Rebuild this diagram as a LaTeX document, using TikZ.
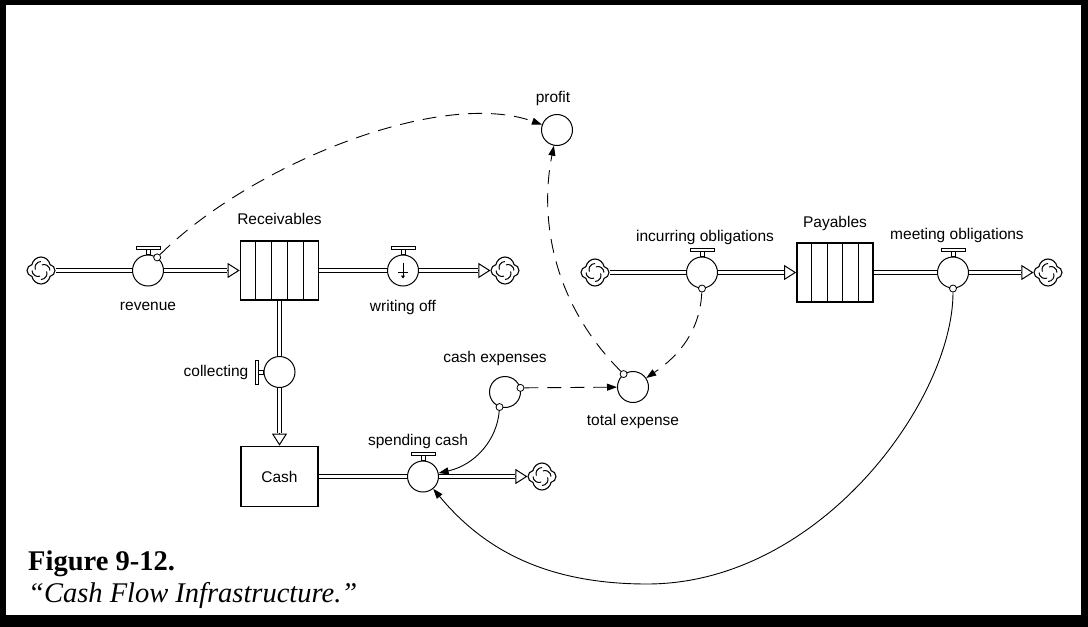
\documentclass[tikz,border=0pt]{standalone}
\usepackage{fontspec}
\setmainfont{Liberation Sans}
\newfontfamily\capfont{Liberation Serif}
\usepackage{tikz}
\usetikzlibrary{shapes.geometric, shapes.symbols, arrows.meta, calc, positioning}
\tikzstyle{stock} = [rectangle, line width=1.7pt, minimum width=78pt, minimum height=59pt, inner sep=0pt, text centered, draw=black, font=\fontsize{15.5}{18}\selectfont]
\tikzstyle{valve} = [circle, line width=1pt, minimum size=31pt, inner sep=0pt, draw=black, fill=white]
\tikzstyle{aux} = [circle, line width=1pt, minimum size=31pt, inner sep=0pt, draw=black, fill=white]
\tikzstyle{linkdot} = [circle, line width=0.8pt, minimum size=7pt, inner sep=0pt, draw=black, fill=white]
\tikzstyle{cloudsym} = [cloud, cloud puffs=4, cloud puff arc=160, aspect=1, shape border rotate=45, line width=1.1pt, minimum width=28pt, minimum height=27pt, inner sep=0pt, draw=black, fill=white,
  path picture={\foreach \a in {0,90,180,270} \draw[line width=1pt] (path picture bounding box.center) ++(\a:9pt) arc[start angle=\a, end angle=\a+110, radius=6pt];}]
\tikzstyle{lbl} = [inner sep=0pt, text height=11.5pt, text depth=3.3pt, font=\fontsize{15.5}{18}\selectfont]
\tikzstyle{pipe} = [line width=1pt, double, double distance=2.6pt, shorten >=12.5pt]
\tikzstyle{pipetip} = [line width=1pt, -{Triangle[fill=white, length=12pt, width=15pt]}]
\tikzstyle{handle} = [line width=0.8pt, draw=black, fill=white]
\tikzstyle{divider} = [line width=1.2pt]
\tikzstyle{link} = [line width=0.9pt, -{Triangle[length=10pt, width=7pt]}]
\tikzstyle{dashedlink} = [link, dash pattern=on 14pt off 9pt]

\begin{document}
\begin{tikzpicture}[x=1pt, y=-1pt]
		% frame
		\fill[black] (0,0) rectangle (1088,627);
		\fill[white] (6,5) rectangle (1081,615);

		\node (SourceRev) [cloudsym] at (41,270.5) {};
		\node (Receivables) [stock] at (279.5,270.5) {};
		\node (SinkWrite) [cloudsym] at (505,270.5) {};
		\node (Cash) [stock, minimum width=77pt, minimum height=60pt] at (279.5,476.5) {Cash};
		\node (SinkSpend) [cloudsym] at (542,476.5) {};
		\node (SourceInc) [cloudsym] at (595,272.5) {};
		\node (Payables) [stock, minimum width=76pt] at (835,272.5) {};
		\node (SinkMeet) [cloudsym] at (1048,272.5) {};

		\draw [divider] ($(Receivables.north west)!0.2!(Receivables.north east)$) -- ($(Receivables.south west)!0.2!(Receivables.south east)$);
		\draw [divider] ($(Receivables.north west)!0.4!(Receivables.north east)$) -- ($(Receivables.south west)!0.4!(Receivables.south east)$);
		\draw [divider] ($(Receivables.north west)!0.6!(Receivables.north east)$) -- ($(Receivables.south west)!0.6!(Receivables.south east)$);
		\draw [divider] ($(Receivables.north west)!0.8!(Receivables.north east)$) -- ($(Receivables.south west)!0.8!(Receivables.south east)$);
		\draw [divider] ($(Payables.north west)!0.2!(Payables.north east)$) -- ($(Payables.south west)!0.2!(Payables.south east)$);
		\draw [divider] ($(Payables.north west)!0.4!(Payables.north east)$) -- ($(Payables.south west)!0.4!(Payables.south east)$);
		\draw [divider] ($(Payables.north west)!0.6!(Payables.north east)$) -- ($(Payables.south west)!0.6!(Payables.south east)$);
		\draw [divider] ($(Payables.north west)!0.8!(Payables.north east)$) -- ($(Payables.south west)!0.8!(Payables.south east)$);

		% pipes
		\draw [pipetip] (SourceRev) -- (Receivables);
		\draw [pipe] (SourceRev) -- (Receivables);
		\draw [pipetip] (Receivables) -- (SinkWrite);
		\draw [pipe] (Receivables) -- (SinkWrite);
		\draw [pipetip] (Receivables) -- (Cash);
		\draw [pipe] (Receivables) -- (Cash);
		\draw [pipetip] (Cash) -- (SinkSpend);
		\draw [pipe] (Cash) -- (SinkSpend);
		\draw [pipetip] (SourceInc) -- (Payables);
		\draw [pipe] (SourceInc) -- (Payables);
		\draw [pipetip] (Payables) -- (SinkMeet);
		\draw [pipe] (Payables) -- (SinkMeet);

		\node (Revenue) [valve] at (148,270.5) {};
		\node (WritingOff) [valve] at (403,270.5) {};
		\node (Collecting) [valve] at (279.5,372) {};
		\node (Spending) [valve] at (423,476.5) {};
		\node (Incurring) [valve] at (702,272.5) {};
		\node (Meeting) [valve] at (953,272.5) {};

		\node (CashExp) [aux] at (505,392) {};
		\node (TotalExp) [aux] at (633,387) {};
		\node (Profit) [aux] at (557,130) {};

		% valve handles
		\draw [handle] ($(Revenue.north)+(-2,0)$) rectangle ($(Revenue.north)+(2,-5)$);
		\draw [handle] ($(Revenue.north)+(-12,-5)$) rectangle ($(Revenue.north)+(12,-8)$);
		\draw [handle] ($(WritingOff.north)+(-2,0)$) rectangle ($(WritingOff.north)+(2,-5)$);
		\draw [handle] ($(WritingOff.north)+(-12,-5)$) rectangle ($(WritingOff.north)+(12,-8)$);
		\draw [handle] ($(Spending.north)+(-2,0)$) rectangle ($(Spending.north)+(2,-5)$);
		\draw [handle] ($(Spending.north)+(-12,-5)$) rectangle ($(Spending.north)+(12,-8)$);
		\draw [handle] ($(Incurring.north)+(-2,0)$) rectangle ($(Incurring.north)+(2,-5)$);
		\draw [handle] ($(Incurring.north)+(-12,-5)$) rectangle ($(Incurring.north)+(12,-8)$);
		\draw [handle] ($(Meeting.north)+(-2,0)$) rectangle ($(Meeting.north)+(2,-5)$);
		\draw [handle] ($(Meeting.north)+(-12,-5)$) rectangle ($(Meeting.north)+(12,-8)$);
		\draw [handle] ($(Collecting.west)+(0,-2)$) rectangle ($(Collecting.west)+(-5,2)$);
		\draw [handle] ($(Collecting.west)+(-5,-12)$) rectangle ($(Collecting.west)+(-8,12)$);
		\draw [line width=0.8pt, -{Triangle[length=3pt, width=4pt]}] ($(WritingOff)+(0,-8)$) -- ($(WritingOff)+(0,8)$);
		\draw [line width=0.8pt] ($(WritingOff)+(-5,2)$) -- ($(WritingOff)+(5,2)$);

		\node (RevenueLink) [linkdot] at (Revenue.55) {};
		\node (IncurringLink) [linkdot] at (Incurring.south) {};
		\node (MeetingLink) [linkdot] at (Meeting.south) {};
		\node (CashExpLinkR) [linkdot] at (CashExp.15) {};
		\node (CashExpLinkB) [linkdot] at (CashExp.-110) {};
		\node (TotalExpLink) [linkdot] at (TotalExp.126) {};

		% labels
		\node (ReceivablesLabel) [lbl, above = 12pt of Receivables] {Receivables};
		\node (RevenueLabel) [lbl, below = 12pt of Revenue] {revenue};
		\node (WritingOffLabel) [lbl, below = 13pt of WritingOff] {writing off};
		\node (CollectingLabel) [lbl, left = 15pt of Collecting] {collecting};
		\node (SpendingLabel) [lbl, above = 12pt of Spending, xshift=-5pt] {spending cash};
		\node (CashExpLabel) [lbl, above = 10pt of CashExp, xshift=-10pt] {cash expenses};
		\node (TotalExpLabel) [lbl, below = 11pt of TotalExp] {total expense};
		\node (ProfitLabel) [lbl, above = 8pt of Profit, xshift=-4pt] {profit};
		\node (IncurringLabel) [lbl, above = 12pt of Incurring, xshift=3pt] {incurring obligations};
		\node (PayablesLabel) [lbl, above = 11pt of Payables] {Payables};
		\node (MeetingLabel) [lbl, above = 14pt of Meeting, xshift=4pt] {meeting obligations};

		% connectors
		\draw [dashedlink] (RevenueLink) .. controls (250,165) and (440,88) .. (Profit);
		\draw [dashedlink] (TotalExpLink) .. controls (550,300) and (540,215) .. (Profit);
		\draw [dashedlink] (IncurringLink) .. controls (700,330) and (680,355) .. (TotalExp);
		\draw [dashedlink] (CashExpLinkR) -- (TotalExp);
		\draw [link] (CashExpLinkB) .. controls (497,440) and (475,465) .. (Spending);
		\draw [link] (MeetingLink) .. controls (953,400) and (820,584) .. (647,584) .. controls (540,584) and (480,545) .. (Spending);

		\node (FigNumber) [anchor=base west, inner sep=0pt, font=\capfont\bfseries\fontsize{28.5}{34}\selectfont] at (28,570) {Figure 9-12.};
		\node (FigTitle) [anchor=base west, inner sep=0pt, font=\capfont\itshape\fontsize{28.5}{34}\selectfont] at (28,602) {“Cash Flow Infrastructure.”};
\end{tikzpicture}
\end{document}
